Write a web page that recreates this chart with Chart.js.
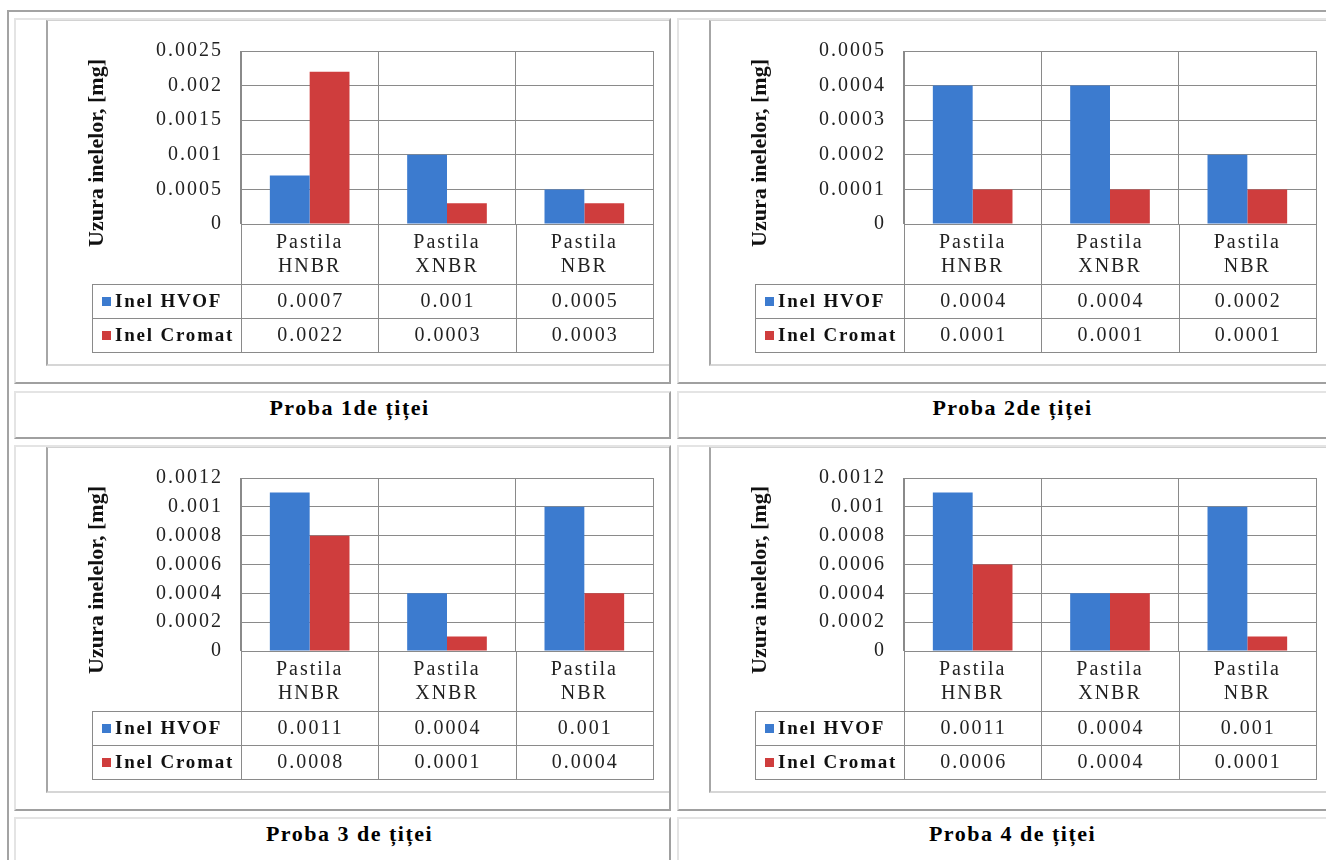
<!DOCTYPE html>
<html>
<head>
<meta charset="utf-8">
<script src="https://cdn.jsdelivr.net/npm/chart.js@4.4.1/dist/chart.umd.min.js"></script>
<style>
  html, body { margin:0; padding:0; background:#fff; }
  body { width:1326px; height:860px; overflow:hidden; position:relative; }
  .outer { position:absolute; left:7px; top:10px; width:1400px; height:900px; box-sizing:border-box;
           border-left:2px solid #a3a3a3; border-top:2px solid #a3a3a3; }
  .cell { position:absolute; box-sizing:border-box; overflow:hidden; background:#fff;
          border-left:2px solid #e4e4e4; border-top:2px solid #e4e4e4;
          border-right:2px solid #a0a0a0; border-bottom:2px solid #a0a0a0; }
  .img { position:absolute; left:30px; top:0; width:640px; height:346px; box-sizing:border-box; background:#fff;
         border-left:2px solid #a6a6a6; border-top:1px solid #d2d2d2; border-bottom:2px solid #d6d6d6; }
  .img canvas { display:block; }
  .cap { font-family:'Liberation Serif','Times New Roman',serif; font-weight:bold; font-size:22px;
         letter-spacing:1.5px; line-height:24px; text-align:center; color:#000;
         padding-top:3px; padding-left:14px; }
</style>
</head>
<body>
<div class="outer"></div>

<div class="cell" style="left:14px;top:18px;width:657px;height:366px;"><div class="img"><canvas id="ch1" width="621" height="343" style="width:621px;height:343px"></canvas></div></div>
<div class="cell" style="left:677px;top:18px;width:657px;height:366px;"><div class="img"><canvas id="ch2" width="621" height="343" style="width:621px;height:343px"></canvas></div></div>
<div class="cell cap" id="cap1" style="left:14px;top:391px;width:657px;height:48px;"></div>
<div class="cell cap" id="cap2" style="left:677px;top:391px;width:657px;height:48px;"></div>

<div class="cell" style="left:14px;top:445px;width:657px;height:366px;"><div class="img"><canvas id="ch3" width="621" height="343" style="width:621px;height:343px"></canvas></div></div>
<div class="cell" style="left:677px;top:445px;width:657px;height:366px;"><div class="img"><canvas id="ch4" width="621" height="343" style="width:621px;height:343px"></canvas></div></div>
<div class="cell cap" id="cap3" style="left:14px;top:817px;width:657px;height:48px;"></div>
<div class="cell cap" id="cap4" style="left:677px;top:817px;width:657px;height:48px;"></div>

<script>
// ---------- DATA ----------
const categories = [['Pastila', 'HNBR'], ['Pastila', 'XNBR'], ['Pastila', 'NBR']];
const seriesNames = ['Inel HVOF', 'Inel Cromat'];
const yTitle = 'Uzura inelelor, [mg]';

const hvof1   = [0.0007, 0.001, 0.0005];
const cromat1 = [0.0022, 0.0003, 0.0003];
const hvof2   = [0.0004, 0.0004, 0.0002];
const cromat2 = [0.0001, 0.0001, 0.0001];
const hvof3   = [0.0011, 0.0004, 0.001];
const cromat3 = [0.0008, 0.0001, 0.0004];
const hvof4   = [0.0011, 0.0004, 0.001];
const cromat4 = [0.0006, 0.0004, 0.0001];

const yMax  = [0.0025, 0.0005, 0.0012, 0.0012];
const yStep = [0.0005, 0.0001, 0.0002, 0.0002];
const captions = ['Proba 1de țiței', 'Proba 2de țiței', 'Proba 3 de țiței', 'Proba 4 de țiței'];

// ---------- STYLE ----------
const SERIF = "'Liberation Serif','Times New Roman',serif";
const colors = ['#3C7BCF', '#CF3D3D'];
const gridColor = '#8a8a8a';
const LS = '2px';

function fmt(v) { return String(parseFloat(Number(v).toFixed(6))); }

const dataTablePlugin = {
  id: 'dataTable',
  beforeUpdate(chart) { chart.ctx.letterSpacing = LS; },
  beforeDraw(chart) {
    const ctx = chart.ctx;
    ctx.save();
    ctx.fillStyle = '#fff';
    ctx.fillRect(0, 0, chart.width, chart.height);
    ctx.restore();
    ctx.letterSpacing = LS;
  },
  afterDraw(chart, args, o) {
    const ctx = chart.ctx;
    const ca = chart.chartArea;
    const xs = chart.scales.x;
    const n = chart.data.labels.length;
    const half = (xs.getPixelForValue(1) - xs.getPixelForValue(0)) / 2;
    const tTop = ca.bottom + o.labelBand;
    const tBot = tTop + o.rowH * chart.data.datasets.length;
    ctx.save();
    ctx.strokeStyle = gridColor;
    ctx.lineWidth = 1;
    ctx.beginPath();
    for (let i = 0; i <= n; i++) {
      const x = Math.round(xs.getPixelForValue(0) - half + i * 2 * half) + 0.5;
      ctx.moveTo(x, ca.bottom);
      ctx.lineTo(x, tBot);
    }
    ctx.moveTo(o.left + 0.5, tTop);
    ctx.lineTo(o.left + 0.5, tBot);
    for (let r = 0; r <= chart.data.datasets.length; r++) {
      const y = Math.round(tTop + r * o.rowH) + 0.5;
      ctx.moveTo(o.left, y);
      ctx.lineTo(Math.round(ca.right) + 1, y);
    }
    ctx.stroke();

    chart.data.datasets.forEach((ds, r) => {
      const cy = tTop + r * o.rowH + o.rowH / 2;
      ctx.fillStyle = ds.backgroundColor;
      ctx.fillRect(o.left + 10, Math.round(cy - 4.5), 9, 9);
      ctx.letterSpacing = '1.8px';
      ctx.fillStyle = '#111';
      ctx.font = 'bold 19px ' + SERIF;
      ctx.textAlign = 'left';
      ctx.textBaseline = 'middle';
      ctx.fillText(ds.label, o.left + 23, cy + 1);
      ctx.letterSpacing = LS;
      ctx.font = '20px ' + SERIF;
      ctx.fillStyle = '#222';
      ctx.textAlign = 'center';
      ds.data.forEach((v, i) => {
        ctx.fillText(fmt(v), xs.getPixelForValue(i) + 1, cy + 1);
      });
    });

    ctx.letterSpacing = '0px';
    ctx.translate(o.titleX, o.titleY);
    ctx.rotate(-Math.PI / 2);
    ctx.font = 'bold 22px ' + SERIF;
    ctx.fillStyle = '#111';
    ctx.textAlign = 'center';
    ctx.textBaseline = 'middle';
    ctx.fillText(yTitle, 0, 0);
    ctx.restore();
    ctx.letterSpacing = LS;
  }
};

function makeChart(id, hv, cr, max, step) {
  return new Chart(document.getElementById(id), {
    type: 'bar',
    data: {
      labels: categories,
      datasets: [
        { label: seriesNames[0], data: hv, backgroundColor: colors[0], borderWidth: 0 },
        { label: seriesNames[1], data: cr, backgroundColor: colors[1], borderWidth: 0 }
      ]
    },
    options: {
      responsive: false,
      animation: false,
      devicePixelRatio: 1,
      events: [],
      categoryPercentage: 0.58,
      barPercentage: 1.0,
      layout: { padding: { left: 0, top: 25, right: 16, bottom: 80 } },
      plugins: {
        legend: { display: false },
        tooltip: { enabled: false },
        dataTable: { left: 44, labelBand: 60, rowH: 34, titleX: 49, titleY: 132 }
      },
      scales: {
        x: {
          grid: { display: true, offset: true, color: gridColor, lineWidth: 1, drawTicks: false },
          border: { display: true, color: gridColor },
          ticks: { color: '#222', padding: 7, font: { family: SERIF, size: 20, lineHeight: 1.2 }, maxRotation: 0, autoSkip: false },
          afterFit(s) { s.height = 60; }
        },
        y: {
          min: 0, max: max,
          grid: { color: gridColor, lineWidth: 1, drawTicks: false },
          border: { display: true, color: gridColor },
          ticks: { stepSize: step, color: '#222', padding: 18, font: { family: SERIF, size: 20 }, callback: (v) => fmt(v) },
          afterFit(s) { s.width = 193; }
        }
      }
    },
    plugins: [dataTablePlugin]
  });
}

makeChart('ch1', hvof1, cromat1, yMax[0], yStep[0]);
makeChart('ch2', hvof2, cromat2, yMax[1], yStep[1]);
makeChart('ch3', hvof3, cromat3, yMax[2], yStep[2]);
makeChart('ch4', hvof4, cromat4, yMax[3], yStep[3]);

captions.forEach((c, i) => { document.getElementById('cap' + (i + 1)).textContent = c; });
</script>
</body>
</html>
